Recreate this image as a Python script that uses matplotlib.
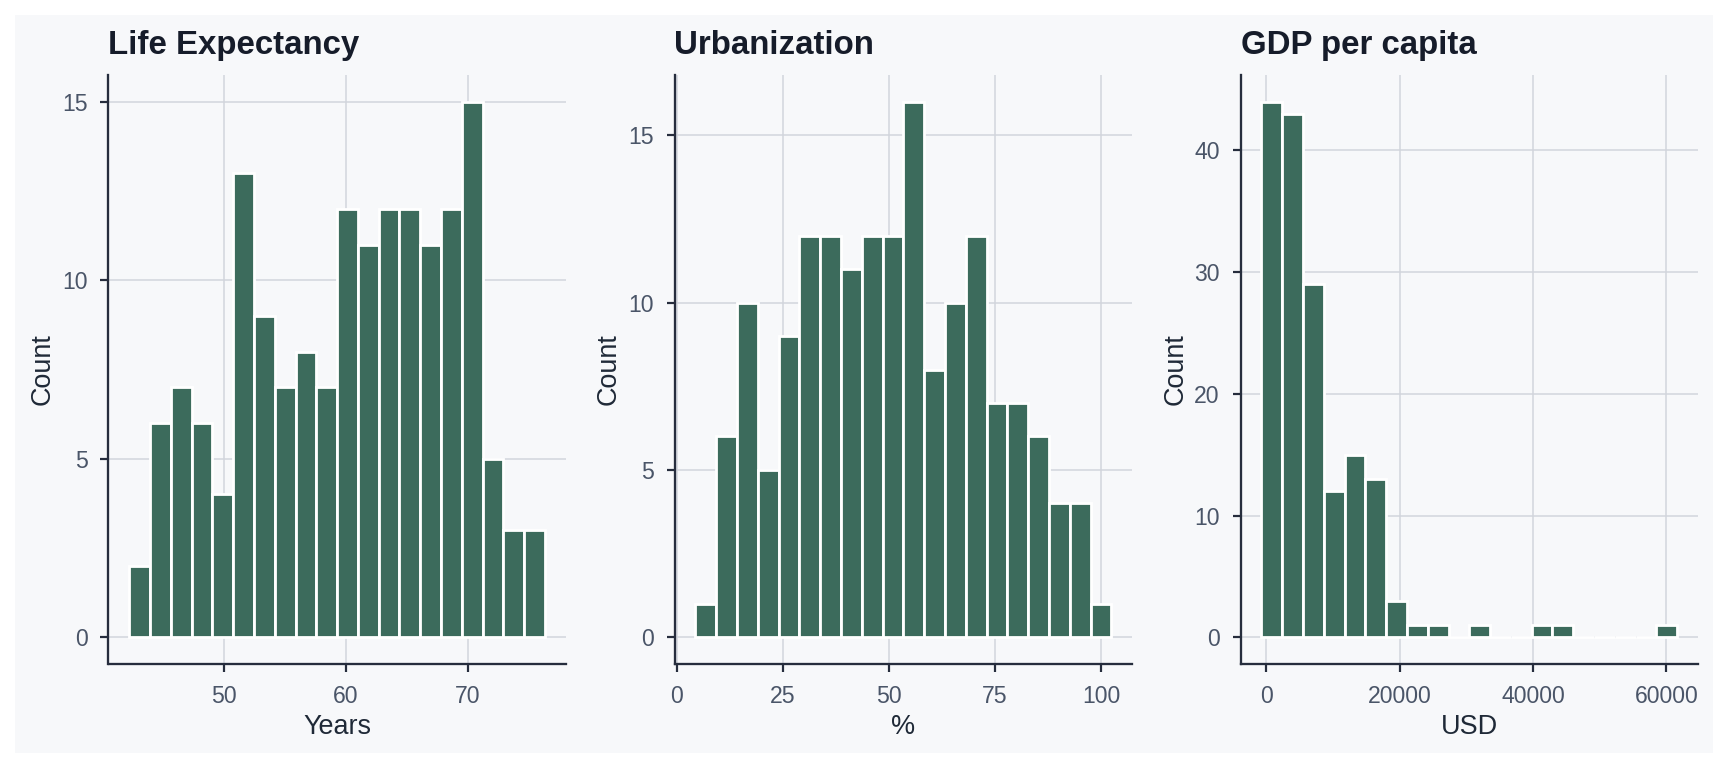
import numpy as np
import matplotlib
matplotlib.use("Agg")
import matplotlib.pyplot as plt
from matplotlib.patches import Rectangle

# ---------------- data ----------------
titles = ["Life Expectancy", "Urbanization", "GDP per capita"]
xlabels = ["Years", "%", "USD"]

life_bin_start = 42.19
life_bin_width = 1.708
life_counts = [2, 6, 7, 6, 4, 13, 9, 7, 8, 7, 12, 11, 12, 12, 11, 12, 15, 5, 3, 3]

urban_bin_start = 4.38
urban_bin_width = 4.903
urban_counts = [1, 6, 10, 5, 9, 12, 12, 11, 12, 12, 16, 8, 10, 12, 7, 7, 6, 4, 4, 1]

gdp_bin_start = -720
gdp_bin_width = 3118
gdp_counts = [44, 43, 29, 12, 15, 13, 3, 1, 1, 0, 1, 0, 0, 1, 1, 0, 0, 0, 0, 1]

life_xticks = [50, 60, 70]
urban_xticks = [0, 25, 50, 75, 100]
gdp_xticks = [0, 20000, 40000, 60000]
life_yticks = [0, 5, 10, 15]
urban_yticks = [0, 5, 10, 15]
gdp_yticks = [0, 10, 20, 30, 40]

# ---------------- style ----------------
W, H, DPI = 1728, 768, 144
BG = "#f7f8fa"
BAR = "#3c6b5c"
SPINE = "#262d3d"
TICKC = "#4a5568"
LABELC = "#1f2937"
TITLEC = "#161c2a"
GRID = "#d1d5dc"

plt.rcParams["font.family"] = ["Liberation Sans", "DejaVu Sans"]

fig = plt.figure(figsize=(W / DPI, H / DPI), dpi=DPI, facecolor="white")
fig.patches.append(Rectangle((15 / W, 15 / H), (1713 - 15) / W, (753 - 15) / H,
                             transform=fig.transFigure, facecolor=BG,
                             edgecolor="none", zorder=-10))

bottom = 1 - 664 / H
height = (664 - 75) / H
lefts = [108.5, 674.5, 1240.7]
widths = [457.2, 457.8, 457.3]

panels = [
    (life_bin_start, life_bin_width, life_counts, life_xticks, life_yticks),
    (urban_bin_start, urban_bin_width, urban_counts, urban_xticks, urban_yticks),
    (gdp_bin_start, gdp_bin_width, gdp_counts, gdp_xticks, gdp_yticks),
]

for i, (start, bw, counts, xt, yt) in enumerate(panels):
    ax = fig.add_axes([lefts[i] / W, bottom, widths[i] / W, height])
    ax.set_facecolor(BG)
    ax.set_axisbelow(True)
    ax.use_sticky_edges = False
    ax.grid(True, color=GRID, linewidth=0.75)
    edges = start + bw * np.arange(len(counts))
    ax.bar(edges, counts, width=bw, align="edge", color=BAR,
           edgecolor="white", linewidth=1.4, zorder=2)
    ax.margins(x=0.05, y=0.05)
    ax.set_xticks(xt)
    ax.set_yticks(yt)
    ax.set_xticklabels([str(v) for v in xt])
    for s in ["top", "right"]:
        ax.spines[s].set_visible(False)
    for s in ["left", "bottom"]:
        ax.spines[s].set_color(SPINE)
        ax.spines[s].set_linewidth(1.15)
    ax.tick_params(axis="both", length=4, width=1.1, color=SPINE,
                   labelcolor=TICKC, labelsize=11.5, pad=6.5)
    ax.set_xlabel(xlabels[i], fontsize=13.5, color=LABELC, labelpad=3)
    ax.set_ylabel("Count", fontsize=13.5, color=LABELC, labelpad=3)
    ax.set_title(titles[i], loc="left", fontsize=16.5, fontweight="bold",
                 color=TITLEC, pad=10.5)

fig.savefig("out.png", dpi=DPI, facecolor="white")
